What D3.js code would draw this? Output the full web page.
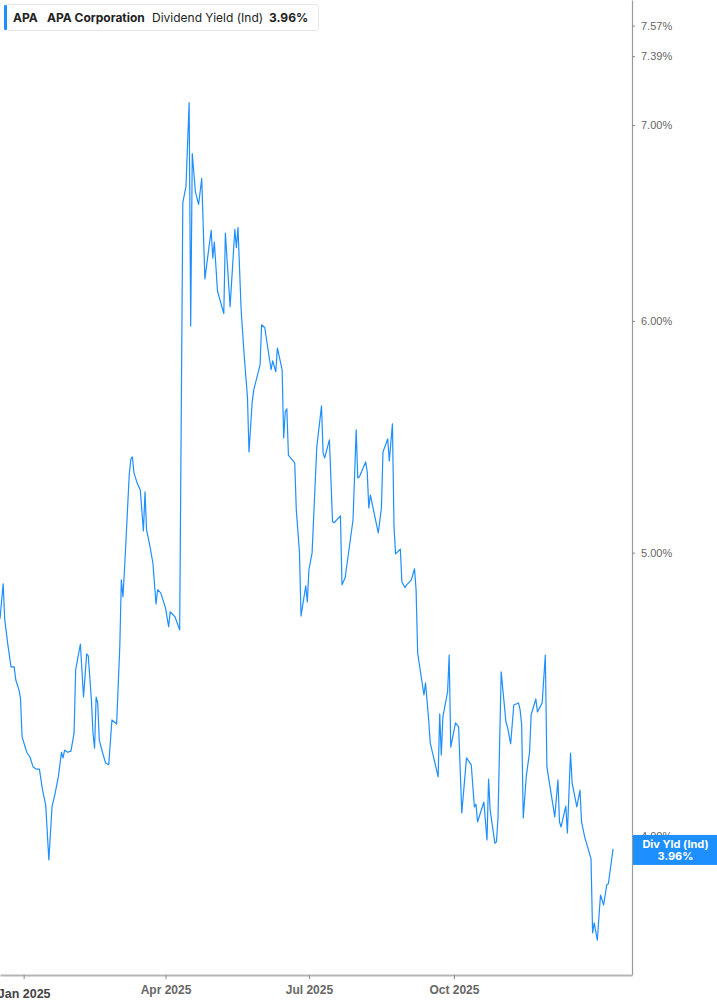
<!DOCTYPE html>
<html>
<head>
<meta charset="utf-8">
<script src="https://cdn.jsdelivr.net/npm/d3@7"></script>
<style>
  body { margin: 0; background: #fff; font-family: Inter, 'Open Sans', sans-serif; }
  .axis-y text { fill: #666; font-size: 11px; }
  .axis-x text { fill: #666; font-size: 12px; font-weight: 600; }
</style>
</head>
<body>
<div id="chart"></div>
<script>
// Dividend yield readings
const dates = [
  '2024-12-17','2024-12-19','2024-12-20','2024-12-22','2024-12-24','2024-12-26','2024-12-27','2024-12-29','2024-12-30','2024-12-31',
  '2025-01-03','2025-01-05','2025-01-07','2025-01-09','2025-01-11','2025-01-13','2025-01-15','2025-01-17','2025-01-19','2025-01-21',
  '2025-01-23','2025-01-25','2025-01-26','2025-01-27','2025-01-29','2025-01-31','2025-02-02','2025-02-03','2025-02-06','2025-02-08',
  '2025-02-10','2025-02-11','2025-02-13','2025-02-14','2025-02-15','2025-02-16','2025-02-17','2025-02-18','2025-02-20','2025-02-22',
  '2025-02-24','2025-02-26','2025-03-01','2025-03-03','2025-03-04','2025-03-05','2025-03-06','2025-03-09','2025-03-10','2025-03-11',
  '2025-03-12','2025-03-14','2025-03-16','2025-03-18','2025-03-19','2025-03-20','2025-03-22','2025-03-24','2025-03-26','2025-03-27',
  '2025-03-29','2025-04-01','2025-04-03','2025-04-04','2025-04-07','2025-04-10','2025-04-12','2025-04-14','2025-04-16','2025-04-17',
  '2025-04-18','2025-04-20','2025-04-22','2025-04-24','2025-04-26','2025-04-30','2025-05-01','2025-05-02','2025-05-04','2025-05-08',
  '2025-05-09','2025-05-12','2025-05-15','2025-05-16','2025-05-17','2025-05-19','2025-05-21','2025-05-23','2025-05-24','2025-05-26',
  '2025-05-27','2025-05-31','2025-06-01','2025-06-03','2025-06-07','2025-06-08','2025-06-10','2025-06-11','2025-06-14','2025-06-15',
  '2025-06-16','2025-06-17','2025-06-18','2025-06-22','2025-06-23','2025-06-25','2025-06-26','2025-06-29','2025-06-30','2025-07-01',
  '2025-07-03','2025-07-06','2025-07-09','2025-07-10','2025-07-11','2025-07-14','2025-07-16','2025-07-17','2025-07-21','2025-07-22',
  '2025-07-24','2025-07-29','2025-07-31','2025-08-01','2025-08-02','2025-08-06','2025-08-07','2025-08-08','2025-08-09','2025-08-14',
  '2025-08-16','2025-08-17','2025-08-20','2025-08-21','2025-08-23','2025-08-24','2025-08-25','2025-08-28','2025-08-29','2025-08-31',
  '2025-09-01','2025-09-04','2025-09-06','2025-09-07','2025-09-08','2025-09-12','2025-09-13','2025-09-15','2025-09-16','2025-09-21',
  '2025-09-22','2025-09-23','2025-09-24','2025-09-27','2025-09-28','2025-09-29','2025-10-02','2025-10-04','2025-10-06','2025-10-09',
  '2025-10-12','2025-10-14','2025-10-15','2025-10-16','2025-10-20','2025-10-22','2025-10-23','2025-10-24','2025-10-27','2025-10-28',
  '2025-10-29','2025-10-31','2025-11-03','2025-11-04','2025-11-06','2025-11-08','2025-11-11','2025-11-12','2025-11-13','2025-11-14',
  '2025-11-16','2025-11-18','2025-11-19','2025-11-22','2025-11-23','2025-11-26','2025-11-28','2025-11-29','2025-12-04','2025-12-06',
  '2025-12-07','2025-12-08','2025-12-11','2025-12-12','2025-12-14','2025-12-15','2025-12-18','2025-12-20','2025-12-21','2025-12-23',
  '2025-12-27','2025-12-28','2025-12-29','2025-12-31','2026-01-02','2026-01-04','2026-01-06','2026-01-07','2026-01-10'
];

const yields = [
  4.746, 4.879, 4.743, 4.650, 4.570, 4.570, 4.524, 4.488, 4.459, 4.325,
  4.273, 4.257, 4.224, 4.217, 4.217, 4.148, 4.099, 3.926, 4.093, 4.138,
  4.191, 4.273, 4.254, 4.280, 4.273, 4.277, 4.338, 4.559, 4.653, 4.463,
  4.617, 4.610, 4.452, 4.338, 4.287, 4.463, 4.442, 4.314, 4.273, 4.237,
  4.231, 4.383, 4.369, 4.643, 4.894, 4.829, 4.933, 5.316, 5.382, 5.391,
  5.324, 5.282, 5.253, 5.086, 5.245, 5.090, 5.030, 4.960, 4.802, 4.856,
  4.844, 4.787, 4.717, 4.772, 4.754, 4.705, 6.585, 6.670, 7.125, 5.976,
  6.844, 6.641, 6.576, 6.712, 6.202, 6.444, 6.304, 6.384, 6.143, 6.035,
  6.429, 6.068, 6.448, 6.357, 6.458, 6.052, 5.832, 5.652, 5.412, 5.629,
  5.683, 5.796, 5.982, 5.968, 5.774, 5.815, 5.765, 5.873, 5.774, 5.472,
  5.586, 5.599, 5.399, 5.366, 5.171, 5.002, 4.757, 4.871, 4.810, 4.933,
  4.998, 5.433, 5.612, 5.407, 5.387, 5.464, 5.123, 5.119, 5.147, 4.875,
  4.902, 5.131, 5.507, 5.303, 5.307, 5.370, 5.328, 5.179, 5.232, 5.078,
  5.179, 5.412, 5.468, 5.374, 5.533, 5.102, 4.995, 5.014, 4.886, 4.864,
  4.875, 4.894, 4.937, 4.856, 4.620, 4.470, 4.513, 4.383, 4.304, 4.191,
  4.404, 4.264, 4.394, 4.481, 4.613, 4.290, 4.373, 4.359, 4.074, 4.254,
  4.231, 4.093, 4.102, 4.045, 4.109, 3.988, 4.184, 4.083, 3.978, 3.982,
  4.061, 4.552, 4.376, 4.359, 4.301, 4.435, 4.442, 4.418, 4.366, 4.058,
  4.197, 4.273, 4.401, 4.456, 4.411, 4.442, 4.613, 4.224, 4.061, 4.181,
  4.045, 4.029, 4.096, 4.010, 4.270, 4.171, 4.093, 4.148, 4.045, 3.997,
  3.929, 3.707, 3.736, 3.686, 3.819, 3.789, 3.850, 3.853, 3.960
];

// Axis ticks
const xTicks = ['2025-01-01', '2025-04-01', '2025-07-01', '2025-10-01'];
const xTickLabels = ['Jan 2025', 'Apr 2025', 'Jul 2025', 'Oct 2025'];
const yTicks = [4.00, 5.00, 6.00, 7.00, 7.39, 7.57];

const lastValue = 3.96;

const parseDate = d3.timeParse('%Y-%m-%d');
const data = dates.map((d, i) => ({ date: parseDate(d), value: yields[i] }));

// Chart dimensions
const fullWidth = 717;
const fullHeight = 1005;
const plotRight = 632;
const plotBottom = 975;

const svg = d3
  .select('#chart')
  .append('svg')
  .attr('width', fullWidth)
  .attr('height', fullHeight)
  .style('font-family', "Inter, 'Open Sans', sans-serif");

// Scales: time on x, log yield on y
const xScale = d3
  .scaleTime()
  .domain([parseDate('2024-12-17'), parseDate('2026-01-22')])
  .range([0, plotRight]);

const yScale = d3
  .scaleLog()
  .domain([3.586, 7.724])
  .range([plotBottom, 0]);

// Right axis
const yAxis = svg.append('g')
  .attr('class', 'axis-y')
  .attr('transform', `translate(${plotRight}, 0)`)
  .call(d3.axisRight(yScale)
    .tickValues(yTicks)
    .tickFormat((d) => d.toFixed(2) + '%')
    .tickSize(3)
    .tickSizeOuter(0)
    .tickPadding(6));

yAxis.select('.domain').attr('stroke', '#9a9a9a').attr('stroke-width', 1.2);
yAxis.selectAll('.tick line').attr('stroke', '#888');

// Bottom axis
const xAxis = svg.append('g')
  .attr('class', 'axis-x')
  .attr('transform', `translate(0, ${plotBottom})`)
  .call(d3.axisBottom(xScale)
    .tickValues(xTicks.map(parseDate))
    .tickFormat((d, i) => xTickLabels[i])
    .tickSize(4)
    .tickSizeOuter(0)
    .tickPadding(6));

xAxis.select('.domain').attr('stroke', '#b5b5b5').attr('stroke-width', 2);
xAxis.selectAll('.tick line').attr('stroke', '#888');

// first label (year start) is bold and darker
xAxis.selectAll('.tick text')
  .filter((d, i) => i === 0)
  .style('font-weight', 'bold')
  .style('fill', '#444')
  .style('font-size', '12.5px')
  .attr('dy', '1em');

// The yield line
const line = d3.line()
  .x((d) => xScale(d.date))
  .y((d) => yScale(d.value));

svg.append('path')
  .datum(data)
  .attr('fill', 'none')
  .attr('stroke', '#1e8fff')
  .attr('stroke-width', 1.2)
  .attr('stroke-linejoin', 'round')
  .attr('d', line);

// Last value label on the right axis
const labelY = yScale(lastValue);
const valueBox = svg.append('g').attr('class', 'value-label');

valueBox.append('rect')
  .attr('x', plotRight + 1)
  .attr('y', labelY - 14)
  .attr('width', fullWidth - plotRight - 1)
  .attr('height', 30)
  .style('fill', '#1e8fff');

valueBox.append('text')
  .attr('x', (plotRight + fullWidth) / 2 + 1)
  .attr('y', labelY - 1)
  .attr('text-anchor', 'middle')
  .style('fill', '#fff')
  .style('font-size', '11px')
  .style('font-weight', 'bold')
  .text('Div Yld (Ind)');

valueBox.append('text')
  .attr('x', (plotRight + fullWidth) / 2 + 1)
  .attr('y', labelY + 11)
  .attr('text-anchor', 'middle')
  .style('fill', '#fff')
  .style('font-size', '11px')
  .style('font-weight', 'bold')
  .text(lastValue.toFixed(2) + '%');

// Legend box at the top left
const legend = svg.append('g').attr('class', 'legend');

legend.append('rect')
  .attr('x', 4.5)
  .attr('y', 4.5)
  .attr('width', 314)
  .attr('height', 26)
  .attr('rx', 3)
  .style('fill', '#fff')
  .style('stroke', '#e6e6e6');

legend.append('rect')
  .attr('x', 4)
  .attr('y', 5)
  .attr('width', 3)
  .attr('height', 25)
  .attr('rx', 1)
  .style('fill', '#1e8fff');

const legendItems = [
  { text: 'APA', x: 13, bold: true },
  { text: 'APA Corporation', x: 47, bold: true },
  { text: 'Dividend Yield (Ind)', x: 152, bold: false },
  { text: lastValue.toFixed(2) + '%', x: 269, bold: true }
];

legend.selectAll('.legend-text')
  .data(legendItems)
  .enter()
  .append('text')
  .attr('class', 'legend-text')
  .attr('x', (d) => d.x)
  .attr('y', 21.5)
  .style('font-size', '12px')
  .style('font-weight', (d) => (d.bold ? 'bold' : 'normal'))
  .style('fill', '#222')
  .text((d) => d.text);
</script>
</body>
</html>
